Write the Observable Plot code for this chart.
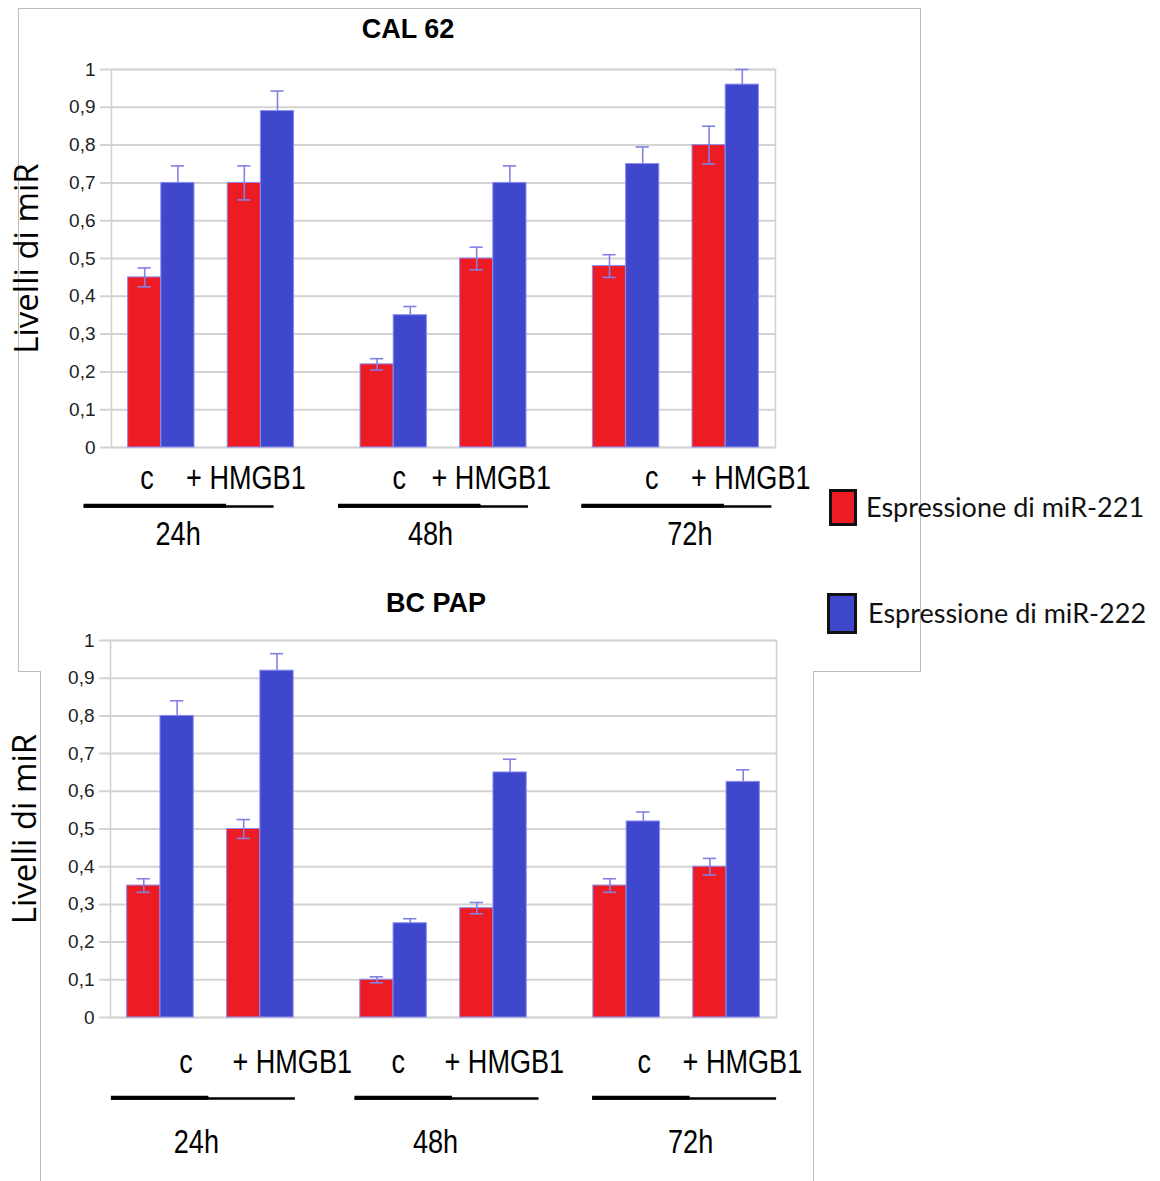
<!DOCTYPE html>
<html><head><meta charset="utf-8">
<script src="https://cdn.jsdelivr.net/npm/d3@7"></script>
<script src="https://cdn.jsdelivr.net/npm/@observablehq/plot@0.6"></script>
<style>
body{margin:0;background:#fff;}
#page{position:relative;width:1160px;height:1181px;overflow:hidden;background:#fff;font-family:"Liberation Sans",Arial,sans-serif;}
.bl{position:absolute;border:0 solid #bcbcbc;}
.title{position:absolute;font-weight:bold;font-size:27px;line-height:27px;text-align:center;color:#000;white-space:nowrap;font-family:"Liberation Sans",Arial,sans-serif;}
.legtext{position:absolute;font-family:Lato,"Open Sans",sans-serif;font-size:27px;line-height:30px;color:#111;white-space:nowrap;}
.sw{position:absolute;box-sizing:border-box;border:3px solid #111;}
.chart{position:absolute;}
#page svg g[aria-label^="y-axis"] text{font-size:19px;fill:#222;}
</style></head><body>
<div id="page">
  <div class="bl" style="left:18px;top:8px;width:901px;height:663px;border-top-width:1px;border-left-width:1px;border-right-width:1px;"></div>
  <div class="bl" style="left:18px;top:671px;width:22px;height:0;border-top-width:1px;"></div>
  <div class="bl" style="left:813px;top:671px;width:107px;height:0;border-top-width:1px;"></div>
  <div class="bl" style="left:40px;top:671px;width:772px;height:520px;border-left-width:1px;border-right-width:1px;"></div>
  <div id="chart1" class="chart" style="left:0;top:0;"></div>
  <div id="chart2" class="chart" style="left:0;top:600px;"></div>
  <div class="title" style="left:308px;top:16px;width:200px;">CAL 62</div>
  <div class="title" style="left:336px;top:590px;width:200px;">BC PAP</div>
  <div id="legend"></div>
</div>
<script>
// ---------- data ----------
const times = ["24h", "48h", "72h"];
const conditions = ["c", "+ HMGB1"];
const series = ["Espressione di miR-221", "Espressione di miR-222"];
const yTicks = [0, 0.1, 0.2, 0.3, 0.4, 0.5, 0.6, 0.7, 0.8, 0.9, 1];
const yLabel = "Livelli di miR";

// order: 24h c, 24h +HMGB1, 48h c, 48h +HMGB1, 72h c, 72h +HMGB1
const cal62_miR221 = [0.45, 0.70, 0.22, 0.50, 0.48, 0.80];
const cal62_miR221_err = [0.025, 0.045, 0.015, 0.03, 0.03, 0.05];
const cal62_miR222 = [0.70, 0.89, 0.35, 0.70, 0.75, 0.96];
const cal62_miR222_err = [0.045, 0.053, 0.023, 0.045, 0.045, 0.04];

const bcpap_miR221 = [0.35, 0.50, 0.10, 0.29, 0.35, 0.40];
const bcpap_miR221_err = [0.018, 0.025, 0.008, 0.015, 0.018, 0.022];
const bcpap_miR222 = [0.80, 0.92, 0.25, 0.65, 0.52, 0.625];
const bcpap_miR222_err = [0.04, 0.045, 0.012, 0.035, 0.025, 0.032];

const colors = ["#ed1c24", "#3f48cc"];

// ---------- helpers ----------
const keyOf = (t, c, s) => `${t}|${c}|${s}`;
const gapKey = (t, k) => `${t}|gap${k}`;
const xDomain = [];
times.forEach((t, ti) => {
  xDomain.push(keyOf(t, conditions[0], series[0]), keyOf(t, conditions[0], series[1]), gapKey(t, 0),
               keyOf(t, conditions[1], series[0]), keyOf(t, conditions[1], series[1]));
  if (ti < times.length - 1) xDomain.push(gapKey(t, 1), gapKey(t, 2));
});

function buildRows(v221, e221, v222, e222) {
  const out = [];
  times.forEach((t, ti) => conditions.forEach((c, ci) => {
    const i = ti * conditions.length + ci;
    out.push({time: t, cond: c, series: series[0], key: keyOf(t, c, series[0]), value: v221[i], err: e221[i]});
    out.push({time: t, cond: c, series: series[1], key: keyOf(t, c, series[1]), value: v222[i], err: e222[i]});
  }));
  return out;
}

const fmt = d => String(d).replace(".", ",");
const errColor = "#8282e4";
const NARROW = "'Liberation Sans Narrow', 'Arial Narrow', 'Liberation Sans', sans-serif";
const labelFont = {fontFamily: NARROW, fontSize: 33, fill: "#000"};

function chart(rows, L) {
  const plotW = L.width - L.ml - L.mr;
  const bw = plotW / (xDomain.length + 1);
  const red = rows.filter(d => d.series === series[0]);
  const blue = rows.filter(d => d.series === series[1]);
  const errMarks = (data) => [
    Plot.ruleX(data, {x: "key", y1: d => d.value - d.err, y2: d => d.value + d.err, stroke: errColor, strokeWidth: 1.6}),
    Plot.tickY(data, {x: "key", y: d => d.value + d.err, stroke: errColor, strokeWidth: 1.6, insetLeft: 10, insetRight: 10}),
    Plot.tickY(data, {x: "key", y: d => d.value - d.err, stroke: errColor, strokeWidth: 1.6, insetLeft: 10, insetRight: 10})
  ];
  const marks = [
    Plot.frame({stroke: "#cfcfcf", strokeWidth: 1.5}),
    Plot.ruleY(yTicks, {stroke: "#d3d3d3", strokeWidth: 2, insetLeft: -11}),
    ...errMarks(blue),
    Plot.barY(rows, {x: "key", y: "value", fill: "series", stroke: "#8d8df2", strokeWidth: 1}),
    ...errMarks(red),
    Plot.text([yLabel], {frameAnchor: "left", dx: L.ylabDx, rotate: -90, fontSize: 33,
      fontFamily: "'Open Sans', sans-serif", fill: "#000", textAnchor: "middle"})
  ];
  times.forEach((t, ti) => {
    const g0 = gapKey(t, 0);
    const inset = -(L.lineW / 2 - bw / 2);
    marks.push(
      Plot.text([conditions[0]], {x: () => keyOf(t, conditions[0], series[1]), y: () => 0, dx: L.cDx[ti], dy: L.labelDy,
        lineAnchor: "bottom", textAnchor: "middle", ...labelFont}),
      Plot.text([conditions[1]], {x: () => g0, y: () => 0, dx: L.hDx[ti], dy: L.labelDy,
        lineAnchor: "bottom", textAnchor: "start", ...labelFont}),
      Plot.text([t], {x: () => g0, y: () => 0, dx: L.tDx[ti], dy: L.timeDy,
        lineAnchor: "bottom", textAnchor: "middle", ...labelFont}),
      Plot.ruleY([0], {x1: () => g0, x2: () => g0, dx: L.lDx[ti], dy: L.lineDy,
        insetLeft: inset, insetRight: inset, stroke: "#000", strokeWidth: 2.4}),
      Plot.ruleY([0], {x1: () => g0, x2: () => g0, dx: L.lDx[ti], dy: L.lineDy - 0.8,
        insetLeft: inset, insetRight: inset + L.lineW * (1 - L.thick), stroke: "#000", strokeWidth: 4})
    );
  });
  return Plot.plot({
    width: L.width, height: L.height,
    marginLeft: L.ml, marginRight: L.mr, marginTop: L.mt, marginBottom: L.mb,
    style: {background: "transparent", overflow: "visible", fontSize: "19px",
            fontFamily: "'Liberation Sans', Arial, sans-serif", color: "#222"},
    x: {domain: xDomain, axis: null, paddingInner: 0, paddingOuter: 0.5, round: false},
    y: {domain: [0, 1], ticks: yTicks, tickFormat: fmt, tickSize: 0, tickPadding: 16, label: null},
    color: {domain: series, range: colors},
    marks
  });
}

// condensed look for the hand-placed category labels (Arial Narrow in the original)
function narrow(svg) {
  svg.querySelectorAll("g[font-family*='Narrow'] text").forEach(t => {
    const len = t.getComputedTextLength();
    if (len > 0) {
      t.setAttribute("textLength", (len * 0.82).toFixed(1));
      t.setAttribute("lengthAdjust", "spacingAndGlyphs");
    }
  });
}

const layout1 = {width: 860, height: 580, ml: 111, mr: 85, mt: 69, mb: 133, ylabDx: -84,
  cDx: [-31, -11, 9], hDx: [-25, -12, 15], tDx: [-33, -13, 14], lDx: [-32, -10, 1],
  lineW: 190, thick: 0.75, labelDy: 41, lineDy: 59, timeDy: 97};
const layout2 = {width: 860, height: 580, ml: 110, mr: 84, mt: 40, mb: 163, ylabDx: -85,
  cDx: [9, -12, 1], hDx: [22, 1, 6], tDx: [-14, -8, 14], lDx: [-7, 3.5, 8],
  lineW: 184, thick: 0.53, labelDy: 55, lineDy: 81, timeDy: 135};

const svg1 = chart(buildRows(cal62_miR221, cal62_miR221_err, cal62_miR222, cal62_miR222_err), layout1);
const svg2 = chart(buildRows(bcpap_miR221, bcpap_miR221_err, bcpap_miR222, bcpap_miR222_err), layout2);
document.getElementById("chart1").append(svg1);
document.getElementById("chart2").append(svg2);
narrow(svg1);
narrow(svg2);

// legend
const legend = document.getElementById("legend");
const legPos = [{sx: 829, sy: 489, sw: 28, sh: 37, tx: 866, ty: 492}, {sx: 827, sy: 593, sw: 30, sh: 41, tx: 868, ty: 598}];
series.forEach((s, i) => {
  const p = legPos[i];
  const sw = document.createElement("div");
  sw.className = "sw";
  Object.assign(sw.style, {left: p.sx + "px", top: p.sy + "px", width: p.sw + "px", height: p.sh + "px", background: colors[i]});
  const tx = document.createElement("div");
  tx.className = "legtext";
  Object.assign(tx.style, {left: p.tx + "px", top: p.ty + "px"});
  tx.textContent = s;
  legend.append(sw, tx);
});
</script>
</body></html>
